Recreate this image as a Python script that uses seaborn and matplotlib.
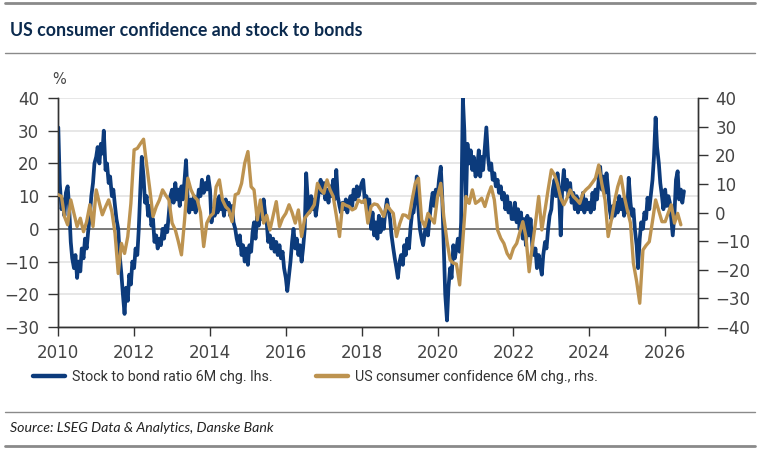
import numpy as np
import pandas as pd
import matplotlib
matplotlib.use("Agg")
import matplotlib.pyplot as plt
import matplotlib.dates as mdates
from matplotlib.lines import Line2D
import seaborn as sns

# stock to bond ratio, 6M change, semi-monthly from Jan 2010 (lhs, %)
stock_bond = [
    31, 14, 6, 9, 4, 11, 13, 7, -4, -9, -12, -8, -15, -10, -13, -6, -9, -3, -6, -1, 4, 10, 14, 20,          # 2010
    22, 25, 20, 26, 23, 30, 18, 20, 14, 16, 10, 12, 7, 3, 0, -8, -14, -20, -26, -18, -22, -14, -17, -10,     # 2011
    -12, -6, -8, 0, 12, 22, 16, 8, 10, 4, 7, 1, 3, -4, -2, -6, -3, -5, 0, -3, 1, -1, 5, 10,                  # 2012
    12, 8, 14, 9, 12, 7, 13, 9, 15, 21, 8, 5, 9, 6, 10, 5, 8, 12, 10, 15, 11, 14, 12, 16,                    # 2013
    12, 2, 6, 4, 9, 5, 10, 6, 8, 4, 9, 6, 8, 4, 7, 2, 0, -3, -5, -2, -8, -5, -10, -6,                        # 2014
    -11, -5, -7, -1, 2, -3, 4, 1, 6, 3, 9, 5, 2, -4, -2, -6, -3, -7, -4, -8, -5, -9, -7, -12,                # 2015
    -15, -19, -14, -10, -4, 0, -6, -3, -8, -5, -10, -6, 0, 17, 8, 5, 10, 6, 9, 4, 8, 12, 15, 11,             # 2016
    14, 9, 12, 8, 13, 10, 15, 9, 18, 10, 7, 5, 8, 6, 9, 5, 8, 10, 7, 12, 9, 13, 10, 12,                      # 2017
    14, 15, 8, 10, 6, 9, 0, 5, -2, 2, -3, 4, -1, 3, 0, 5, 9, 6, 3, -2, -6, -9, -12, -15,                     # 2018
    -10, -8, -11, -5, -8, -3, -6, 0, 5, 5, 10, 16, 6, 0, -3, -5, -1, 2, -2, 3, 8, 11, 7, 12,                 # 2019
    10, 15, 19, 10, -5, -20, -28, -18, -12, -15, -5, -9, -6, -3, -7, 2, 40, 30, 8, 26, 20, 24, 18, 22,       # 2020
    16, 18, 24, 16, 22, 18, 25, 31, 22, 18, 20, 15, 17, 13, 15, 11, 13, 9, 11, 6, 10, 5, 8, 3,               # 2021
    3, 8, 2, 6, 0, 5, -3, 3, -5, 4, -2, 3, -5, -8, -6, -12, -8, -11, -14, -8, -4, -6, 0, 4,                  # 2022
    6, 12, 15, 10, 17, 12, -2, 12, 18, 12, 15, 10, 14, 8, 11, 6, 10, 5, 9, 6, 11, 5, 9, 6,                   # 2023
    8, 5, 11, 6, 12, 9, 15, 19, 12, 16, 11, 17, 12, 6, 3, 7, 4, 8, 5, 10, 6, 9, 4, 8,                        # 2024
    5, 15.6, 8, 4, 6, 0, -5, -12, -3, 2, 0, 5, 3, 9.5, 6, 10, 15, 22, 34, 25, 20, 14, 10, 6,                 # 2025
    12, 7, 10, 8, 3, -2, 5, 15, 17.6, 9, 12, 8, 11.5,                                                         # 2026
]

# US consumer confidence, 6M change, monthly from Jan 2010 (rhs)
confidence = [
    6.2, 5.6, -1.4, -4.3, 4.4, -0.3, -4.9, -2.0, -6.7, -3.2, 2.7, -4.9,         # 2010
    7.9, 3.2, -0.8, 2.0, 4.4, 0.3, -7.2, -21.3, -10.8, -14.3, -8.4, 3.2,        # 2011
    21.9, 22.4, 24.0, 25.6, 16.6, 7.9, -1.4, 2.0, 4.4, 7.9, 6.0, 4.4,           # 2012
    -3.7, -6.1, -10.0, -14.8, -2.6, 12.0, 8.0, 5.6, 4.4, 0.0, -11.9, -3.7,      # 2013
    -1.4, -0.3, 9.0, 11.4, 4.4, 2.0, 0.9, -3.2, 6.2, 6.7, 10.2, 17.2,           # 2014
    21.3, 9.0, 7.9, -2.6, 4.4, -3.7, -1.0, -6.1, -1.0, 3.8, -4.9, -2.0,         # 2015
    -0.3, 2.7, 0.0, -3.7, 0.9, -8.4, -2.0, -0.5, 0.9, 2.7, 10.2, 8.0,           # 2016
    6.7, 11.4, 8.0, 5.6, -1.0, -8.4, 3.2, 2.5, 2.1, 0.9, 1.5, 4.4,              # 2017
    3.5, 4.4, -3.7, 2.1, 3.0, 2.7, 1.0, -1.4, 2.7, 1.0, -0.3, -8.4,             # 2018
    -4.0, -0.8, -1.0, -2.0, 4.4, 10.2, 12.0, -2.6, -4.9, -0.3, -2.0, -3.7,      # 2019
    5.6, 10.2, -1.4, -10.0, -16.6, -17.7, -18.0, -25.3, -9.6, 5.6, 3.2, 7.9,    # 2020
    3.2, 4.0, 5.0, 2.1, 6.0, 9.0, 4.4, -6.1, -9.0, -10.8, -14.3, -16.0,         # 2021
    -12.5, -10.8, -7.2, -3.2, -8.4, -20.7, -11.9, -3.7, 5.6, -6.1, 0.9, 8.0,    # 2022
    14.9, 13.1, 10.0, 5.0, 2.7, 5.0, 7.9, 5.6, 4.5, 3.2, 6.7, 8.0,              # 2023
    9.0, 10.5, 12.0, 16.6, 10.0, 4.4, -8.4, -2.6, 4.0, 9.0, 12.6, 6.0,          # 2024
    0.9, -3.7, -17.7, -24.0, -31.7, -13.1, -11.5, -10.2, -3.0, 4.4, 0.5, -3.2,  # 2025
    -3.2, 0.0, 2.7, -3.7, -0.3, -4.3,                                           # 2026
]

lhs_ticks = [-30, -20, -10, 0, 10, 20, 30, 40]
rhs_ticks = [-40, -30, -20, -10, 0, 10, 20, 30, 40]
title = "US consumer confidence and stock to bonds"
labels = ["Stock to bond ratio 6M chg. lhs.", "US consumer confidence 6M chg., rhs."]
source = "Source: LSEG Data & Analytics, Danske Bank"

BLUE = "#0c3b7c"
GOLD = "#bd9350"
GREY = "#8a8a8a"

sns.set_theme(style="white")
plt.rcParams['font.family'] = ['DejaVu Sans']

df_sb = pd.DataFrame({"date": pd.date_range("2010-01-01", periods=len(stock_bond), freq="SMS"),
                      "value": stock_bond})
df_cc = pd.DataFrame({"date": pd.date_range("2010-01-01", periods=len(confidence), freq="MS"),
                      "value": confidence})

W, H = 760, 450
fig = plt.figure(figsize=(W / 100, H / 100), dpi=100)
fig.patch.set_facecolor("white")
ax = fig.add_axes([58.3 / W, 1 - 327 / H, 640 / W, 229 / H])
ax2 = ax.twinx()

for y in lhs_ticks:
    if y != 0:
        ax.axhline(y, color="#e3e3e3", lw=1.2, zorder=0)
ax.axhline(0, color="#555555", lw=1.1, zorder=1)

sns.lineplot(data=df_sb, x="date", y="value", ax=ax, color=BLUE, lw=2.7, legend=False, zorder=3)
sns.lineplot(data=df_cc, x="date", y="value", ax=ax2, color=GOLD, lw=2.4, legend=False, zorder=3)

ax.set_xlim(pd.Timestamp("2010-01-01"), pd.Timestamp("2026-11-16"))
ax.set_ylim(-30, 40)
ax2.set_ylim(-40, 40)
ax.set_yticks(lhs_ticks)
ax2.set_yticks(rhs_ticks)
ax.xaxis.set_major_locator(mdates.YearLocator(2))
ax.xaxis.set_major_formatter(mdates.DateFormatter("%Y"))
for a in (ax, ax2):
    a.set_xlabel("")
    a.set_ylabel("")
    a.grid(False)
    for s in a.spines.values():
        s.set_color("#333333")
        s.set_linewidth(1.0)
    a.spines["top"].set_visible(False)
ax.tick_params(axis="y", which="major", direction="out", length=7.2, width=1, color="#333333",
               labelsize=12, labelcolor="#444444", pad=6.5, left=True)
ax.tick_params(axis="x", which="major", direction="out", length=6.5, width=1, color="#333333",
               labelsize=12, labelcolor="#444444", pad=5.5, bottom=True)
ax2.tick_params(axis="y", which="major", direction="out", length=7.2, width=1, color="#333333",
                labelsize=12, labelcolor="#444444", pad=5, right=True)

# "%" unit above the left axis
fig.text(59 / W, 1 - 79 / H, "%", ha="center", va="center", fontsize=10.5, color="#444444")

# header, rules and source
fig.add_artist(Line2D([5 / W, 755 / W], [1 - 3 / H, 1 - 3 / H], color=GREY, lw=2.0))
fig.text(10 / W, 1 - 31 / H, title, ha="left", va="center", fontsize=12.8, fontweight="bold",
         color="#0b2a4e", family=["Lato", "DejaVu Sans"])
fig.add_artist(Line2D([5 / W, 755 / W], [1 - 53 / H, 1 - 53 / H], color=GREY, lw=1.0))
fig.add_artist(Line2D([5 / W, 755 / W], [1 - 412 / H, 1 - 412 / H], color=GREY, lw=1.0))
fig.text(10 / W, 1 - 428 / H, source, ha="left", va="center", fontsize=10.2, style="italic",
         color="#222222", family=["Lato", "DejaVu Sans"])
fig.add_artist(Line2D([5 / W, 755 / W], [1 - 446 / H, 1 - 446 / H], color=GREY, lw=2.0))

handles = [Line2D([], [], color=BLUE, lw=3.2), Line2D([], [], color=GOLD, lw=3.2)]
leg = fig.legend(handles, labels, loc="center left", bbox_to_anchor=(33 / W, 1 - 377 / H), ncol=2,
                 frameon=False, borderpad=0, borderaxespad=0, handlelength=2.25, handletextpad=0.48,
                 columnspacing=3.0, prop={"family": ["Roboto", "DejaVu Sans"], "size": 10.3})
for t in leg.get_texts():
    t.set_color("#333333")

fig.savefig("out.png", dpi=100, facecolor="white")
